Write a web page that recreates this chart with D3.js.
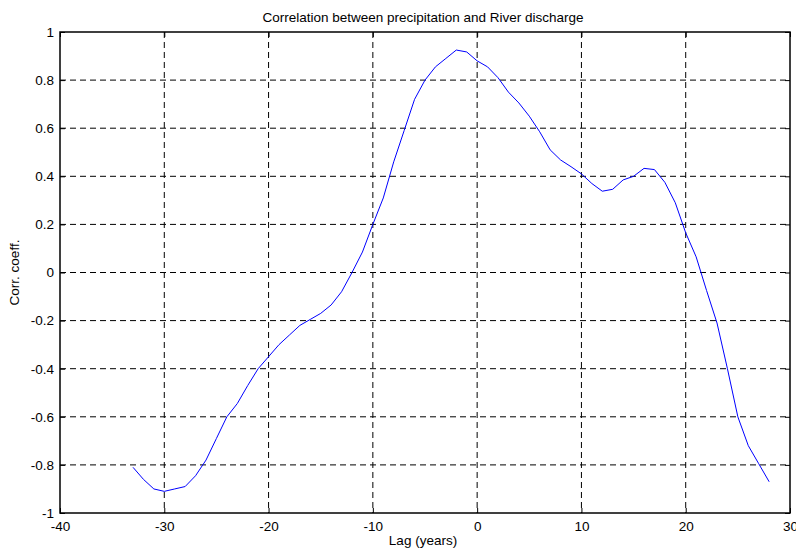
<!DOCTYPE html>
<html>
<head>
<meta charset="utf-8">
<script src="https://cdn.jsdelivr.net/npm/d3@7"></script>
<style>
  html, body { margin: 0; padding: 0; background: #fff; }
  svg { display: block; }
  text { font-family: "Liberation Sans", Arial, sans-serif; fill: #000; }
</style>
</head>
<body>
<svg id="chart" width="796" height="550"></svg>
<script>
// Lag in years and the correlation coefficient at each lag
const lags = [-33,-32,-31,-30,-29,-28,-27,-26,-25,-24,-23,-22,-21,-20,-19,-18,-17,-16,-15,-14,-13,-12,-11,-10,-9,-8,-7,-6,-5,-4,-3,-2,-1,0,1,2,3,4,5,6,7,8,9,10,11,12,13,14,15,16,17,18,19,20,21,22,23,24,25,26,27,28];
const corr = [-0.81,-0.86,-0.90,-0.91,-0.90,-0.89,-0.845,-0.78,-0.69,-0.60,-0.545,-0.47,-0.40,-0.35,-0.30,-0.26,-0.22,-0.195,-0.17,-0.135,-0.08,0.0,0.085,0.20,0.31,0.46,0.59,0.72,0.80,0.855,0.89,0.925,0.917,0.88,0.855,0.81,0.75,0.705,0.65,0.585,0.51,0.468,0.44,0.41,0.37,0.338,0.346,0.385,0.40,0.433,0.428,0.375,0.29,0.165,0.065,-0.075,-0.21,-0.40,-0.60,-0.72,-0.795,-0.87];
const xTicks = [-40,-30,-20,-10,0,10,20,30];
const yTicks = [-1,-0.8,-0.6,-0.4,-0.2,0,0.2,0.4,0.6,0.8,1];

const margin = {left: 60, top: 32, right: 6, bottom: 37};
const W = 796, H = 550;
const FS = 13.5;
const svg = d3.select("#chart");

const x = d3.scaleLinear().domain([-40, 30]).range([margin.left, W - margin.right]);
const y = d3.scaleLinear().domain([-1, 1]).range([H - margin.bottom, margin.top]);

// Dashed grid
const grid = svg.append("g").attr("stroke", "#000").attr("stroke-width", 1).attr("stroke-dasharray", "6,4");
grid.selectAll("line.v").data(xTicks.slice(1, -1)).join("line")
  .attr("x1", d => x(d)).attr("x2", d => x(d))
  .attr("y1", y(1)).attr("y2", y(-1));
grid.selectAll("line.h").data(yTicks.slice(1, -1)).join("line")
  .attr("y1", d => y(d)).attr("y2", d => y(d))
  .attr("x1", x(-40)).attr("x2", x(30));

// Axes with inward ticks
const fmt = d => String(d);
svg.append("g").attr("transform", `translate(0,${y(-1)})`)
  .call(d3.axisBottom(x).tickValues(xTicks).tickFormat(fmt).tickSizeInner(-5).tickSizeOuter(0).tickPadding(8))
  .call(g => g.select(".domain").remove());
svg.append("g").attr("transform", `translate(${x(-40)},0)`)
  .call(d3.axisLeft(y).tickValues(yTicks).tickFormat(fmt).tickSizeInner(-5).tickSizeOuter(0).tickPadding(6))
  .call(g => g.select(".domain").remove());
svg.append("g").attr("transform", `translate(0,${y(1)})`)
  .call(d3.axisTop(x).tickValues(xTicks).tickFormat("").tickSizeInner(-5).tickSizeOuter(0))
  .call(g => g.select(".domain").remove());
svg.append("g").attr("transform", `translate(${x(30)},0)`)
  .call(d3.axisRight(y).tickValues(yTicks).tickFormat("").tickSizeInner(-5).tickSizeOuter(0))
  .call(g => g.select(".domain").remove());
svg.selectAll(".tick text").attr("font-size", FS).attr("font-family", "Liberation Sans, Arial, sans-serif").attr("fill", "#000");
svg.selectAll(".tick line").attr("stroke", "#000");

// Plot box
svg.append("rect")
  .attr("x", x(-40)).attr("y", y(1))
  .attr("width", x(30) - x(-40)).attr("height", y(-1) - y(1))
  .attr("fill", "none").attr("stroke", "#000").attr("stroke-width", 1.5);

// Correlation curve
const pts = lags.map((l, i) => [l, corr[i]]);
svg.append("path").datum(pts)
  .attr("fill", "none").attr("stroke", "#0000ff").attr("stroke-width", 1)
  .attr("d", d3.line().x(d => x(d[0])).y(d => y(d[1])));

// Titles
const cx = (x(-40) + x(30)) / 2 - 2;
svg.append("text").attr("x", cx).attr("y", 22)
  .attr("text-anchor", "middle").attr("font-size", FS)
  .text("Correlation between precipitation and River discharge");
svg.append("text").attr("x", cx).attr("y", 545)
  .attr("text-anchor", "middle").attr("font-size", FS)
  .text("Lag (years)");
svg.append("text").attr("transform", `translate(19,${(y(1) + y(-1)) / 2}) rotate(-90)`)
  .attr("text-anchor", "middle").attr("font-size", FS)
  .text("Corr. coeff.");
</script>
</body>
</html>
